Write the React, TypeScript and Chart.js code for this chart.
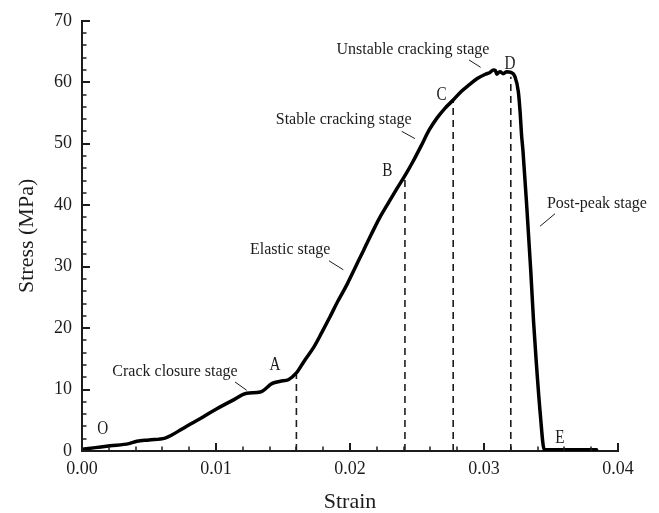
import { useEffect, useRef } from "react";
import { Chart, registerables } from "chart.js";

Chart.register(...registerables);

// Stress–strain curve of the rock specimen
const strainValues = [
  0.0, 0.001, 0.0021, 0.0035, 0.0041, 0.005, 0.0062, 0.0067, 0.0074, 0.0081,
  0.009, 0.01, 0.0112, 0.0123, 0.0133, 0.0142, 0.0148, 0.0154, 0.016, 0.0166,
  0.0173, 0.0179, 0.0185, 0.0191, 0.0198, 0.0204, 0.021, 0.0216, 0.0222, 0.0229,
  0.0235, 0.0241, 0.0247, 0.0253, 0.0259, 0.0265, 0.0271, 0.0277, 0.0283, 0.0289,
  0.0295, 0.0301, 0.03045, 0.0307, 0.03085, 0.03095, 0.0311, 0.0312, 0.03144, 0.0317,
  0.032, 0.03231, 0.03256, 0.0327, 0.0328, 0.03291, 0.0332, 0.03349, 0.0337, 0.0339,
  0.0342, 0.0345, 0.036, 0.0384,
];
const stressValues = [
  0.28, 0.55, 0.85, 1.2, 1.6, 1.8, 2.1, 2.6, 3.5, 4.4,
  5.5, 6.8, 8.2, 9.4, 9.6, 11.0, 11.35, 11.6, 12.7, 14.7,
  16.9, 19.3, 21.8, 24.4, 27.2, 29.9, 32.6, 35.3, 37.9, 40.5,
  42.7, 44.8, 47.1, 49.6, 52.2, 54.2, 55.8, 57.1, 58.5, 59.6,
  60.6, 61.3, 61.6, 62.0, 61.9, 61.3, 61.6, 61.7, 61.4, 61.7,
  61.6, 60.9, 58.5, 55.0, 51.5, 48.8, 39.5, 29.3, 21.0, 14.5,
  6.0, 0.2, 0.2, 0.2,
];

// Stage boundaries A, B, C, D (dashed drop lines)
const boundaryStrain = [0.016, 0.0241, 0.0277, 0.032];
const boundaryStress = [12.4, 44.2, 56.8, 60.9];

// Characteristic point letters
const pointLetters = ["O", "A", "B", "C", "D", "E"];
const letterStrain = [0.00154, 0.0144, 0.02278, 0.02684, 0.03194, 0.03567];
const letterStress = [3.78, 14.21, 45.81, 58.06, 63.19, 2.32];

// Stage names with their leader lines
const stageNames = [
  "Crack closure stage",
  "Elastic stage",
  "Stable cracking stage",
  "Unstable cracking stage",
  "Post-peak stage",
];
const stageNameStrain = [0.00694, 0.01554, 0.01953, 0.0247, 0.03843];
const stageNameStress = [12.85, 32.68, 53.91, 65.25, 40.3];
const leaderFromStrain = [0.01142, 0.01843, 0.02386, 0.02888, 0.03418];
const leaderFromStress = [11.23, 30.95, 52.01, 63.63, 36.57];
const leaderToStrain = [0.01229, 0.0195, 0.02485, 0.02975, 0.0353];
const leaderToStress = [9.88, 29.49, 50.83, 62.43, 38.61];

const INK = "#1c1c1c";
const SERIF = "'Liberation Serif', 'Times New Roman', serif";

const axisTicks = {
  id: "axisTicks",
  afterDraw(chart: any) {
    const { ctx, scales } = chart;
    const x = scales.x;
    const y = scales.y;
    const axisY = y.getPixelForValue(0);
    const axisX = x.getPixelForValue(0);
    ctx.save();
    ctx.strokeStyle = INK;
    for (let i = 0; i <= 20; i++) {
      const px = Math.round(x.getPixelForValue(i * 0.002));
      const major = i % 5 === 0;
      ctx.lineWidth = major ? 2 : 1.5;
      ctx.beginPath();
      ctx.moveTo(px, axisY);
      ctx.lineTo(px, axisY - (major ? 8 : 4.5));
      ctx.stroke();
    }
    for (let i = 0; i <= 35; i++) {
      const py = Math.round(y.getPixelForValue(i * 2));
      const major = i % 5 === 0;
      ctx.lineWidth = major ? 2 : 1.5;
      ctx.beginPath();
      ctx.moveTo(axisX, py);
      ctx.lineTo(axisX + (major ? 8 : 4.5), py);
      ctx.stroke();
    }
    ctx.restore();
  },
};

const annotations = {
  id: "annotations",
  afterDatasetsDraw(chart: any) {
    const { ctx, scales } = chart;
    const x = scales.x;
    const y = scales.y;
    ctx.save();
    ctx.fillStyle = INK;
    ctx.strokeStyle = INK;

    // stage names and leaders
    ctx.font = `16px ${SERIF}`;
    ctx.textAlign = "center";
    ctx.textBaseline = "middle";
    ctx.lineWidth = 1;
    stageNames.forEach((name, i) => {
      ctx.fillText(name, x.getPixelForValue(stageNameStrain[i]), y.getPixelForValue(stageNameStress[i]));
      ctx.beginPath();
      ctx.moveTo(x.getPixelForValue(leaderFromStrain[i]), y.getPixelForValue(leaderFromStress[i]));
      ctx.lineTo(x.getPixelForValue(leaderToStrain[i]), y.getPixelForValue(leaderToStress[i]));
      ctx.stroke();
    });

    // point letters, narrow serif
    ctx.font = `19px ${SERIF}`;
    ctx.textBaseline = "alphabetic";
    pointLetters.forEach((letter, i) => {
      const cx = x.getPixelForValue(letterStrain[i]);
      const cy = y.getPixelForValue(letterStress[i]);
      ctx.save();
      ctx.translate(cx, cy + 6.3);
      ctx.scale(0.8, 1);
      ctx.fillText(letter, 0, 0);
      ctx.restore();
    });
    ctx.restore();
  },
};

export default function App() {
  const canvasRef = useRef<HTMLCanvasElement | null>(null);

  useEffect(() => {
    const canvas = canvasRef.current;
    if (!canvas) return;

    const curve = strainValues.map((s, i) => ({ x: s, y: stressValues[i] }));
    const dropLines = boundaryStrain.map((s, i) => ({
      data: [
        { x: s, y: 0 },
        { x: s, y: boundaryStress[i] },
      ],
      borderColor: INK,
      borderWidth: 1.6,
      borderDash: [7, 5],
      pointRadius: 0,
      showLine: true,
    }));

    const chart = new Chart(canvas, {
      type: "scatter",
      data: {
        datasets: [
          {
            data: curve,
            borderColor: "#000",
            borderWidth: 3.5,
            pointRadius: 0,
            showLine: true,
            cubicInterpolationMode: "monotone",
            borderJoinStyle: "round",
            borderCapStyle: "round",
          } as any,
          ...(dropLines as any[]),
        ],
      },
      options: {
        responsive: false,
        animation: false,
        devicePixelRatio: 1,
        layout: { padding: { left: 0, right: 41, top: 19, bottom: 0 } },
        plugins: {
          legend: { display: false },
          tooltip: { enabled: false },
        },
        scales: {
          x: {
            type: "linear",
            min: 0,
            max: 0.04,
            afterFit: (s: any) => {
              s.height = 62;
            },
            ticks: {
              stepSize: 0.01,
              padding: 7,
              color: INK,
              font: { family: SERIF, size: 18 },
              callback: (v: any) => Number(v).toFixed(2),
            },
            grid: { drawOnChartArea: false, drawTicks: false },
            border: { display: true, color: INK, width: 2 },
            title: {
              display: true,
              text: "Strain",
              color: INK,
              font: { family: SERIF, size: 22, lineHeight: 1 },
              padding: { top: 0, bottom: 0 },
            },
          },
          y: {
            type: "linear",
            min: 0,
            max: 70,
            afterFit: (s: any) => {
              s.width = 82;
            },
            ticks: {
              stepSize: 10,
              padding: 10,
              color: INK,
              font: { family: SERIF, size: 18 },
            },
            grid: { drawOnChartArea: false, drawTicks: false },
            border: { display: true, color: INK, width: 2 },
            title: {
              display: true,
              text: "Stress (MPa)",
              color: INK,
              font: { family: SERIF, size: 22, lineHeight: 1 },
              padding: { top: 16, bottom: 0 },
            },
          },
        },
      },
      plugins: [axisTicks, annotations],
    });

    return () => chart.destroy();
  }, []);

  return (
    <canvas
      ref={canvasRef}
      width={659}
      height={513}
      style={{ position: "absolute", left: 0, top: 0, display: "block", background: "#fff" }}
    />
  );
}
